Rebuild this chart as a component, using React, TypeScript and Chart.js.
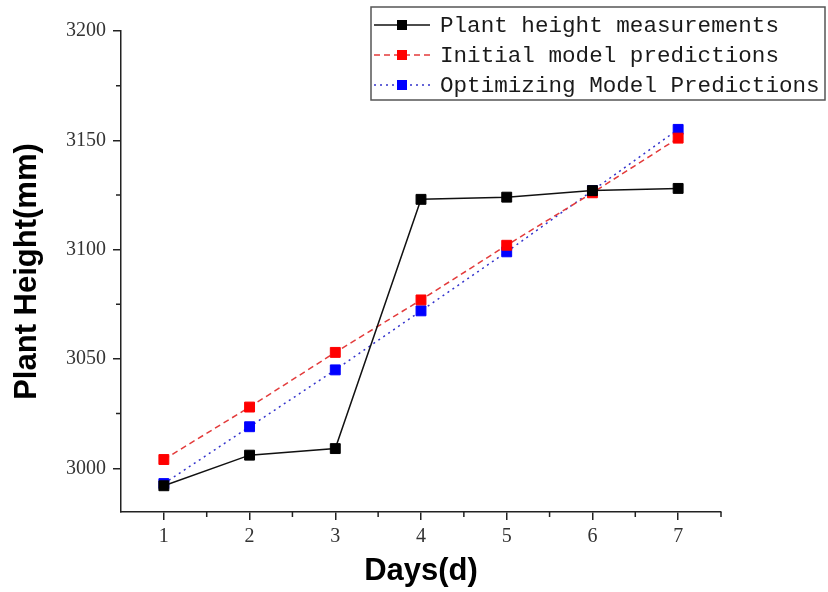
import React, { useEffect, useRef } from "react";
import { Chart, registerables } from "chart.js";

Chart.register(...registerables);

const days = [1, 2, 3, 4, 5, 6, 7];
const measured = [2992, 3006, 3009, 3123, 3124, 3127, 3128];
const initialPred = [3004, 3028, 3053, 3077, 3102, 3126, 3151];
const optimizedPred = [2993, 3019, 3045, 3072, 3099, 3127, 3155];
const yTicks = [3000, 3050, 3100, 3150, 3200];
const xMinorTicks = [1.5, 2.5, 3.5, 4.5, 5.5, 6.5, 7.5];
const yMinorTicks = [3025, 3075, 3125, 3175];
const seriesLabels = [
  "Plant height measurements",
  "Initial model predictions",
  "Optimizing Model Predictions",
];

const toPoints = (vals: number[]) => days.map((d, i) => ({ x: d, y: vals[i] }));

const minorTickPlugin = {
  id: "minorTicks",
  afterDraw(chart: any) {
    const { ctx, chartArea, scales } = chart;
    ctx.save();
    ctx.strokeStyle = "#222";
    ctx.lineWidth = 1.5;
    ctx.beginPath();
    xMinorTicks.forEach((v) => {
      const px = scales.x.getPixelForValue(v);
      ctx.moveTo(px, chartArea.bottom);
      ctx.lineTo(px, chartArea.bottom + 5);
    });
    yMinorTicks.forEach((v) => {
      const py = scales.y.getPixelForValue(v);
      ctx.moveTo(chartArea.left, py);
      ctx.lineTo(chartArea.left - 5, py);
    });
    ctx.stroke();
    ctx.restore();
  },
};

const legendPlugin = {
  id: "boxLegend",
  afterDraw(chart: any) {
    const { ctx } = chart;
    ctx.save();
    ctx.strokeStyle = "#555";
    ctx.lineWidth = 1.5;
    ctx.strokeRect(371, 7, 454, 93);
    chart.data.datasets.forEach((ds: any, i: number) => {
      const y = 25 + i * 30;
      ctx.beginPath();
      ctx.setLineDash(ds.borderDash || []);
      ctx.strokeStyle = ds.borderColor;
      ctx.lineWidth = ds.borderWidth;
      ctx.moveTo(374, y);
      ctx.lineTo(430, y);
      ctx.stroke();
      ctx.setLineDash([]);
      ctx.fillStyle = ds.pointBackgroundColor;
      ctx.fillRect(397, y - 5, 10, 10);
      ctx.fillStyle = "#1a1a1a";
      ctx.font = '22.6px "Liberation Mono"';
      ctx.textBaseline = "middle";
      ctx.textAlign = "left";
      ctx.fillText(ds.label, 440, y + 1);
    });
    ctx.restore();
  },
};

export default function App() {
  const canvasRef = useRef<HTMLCanvasElement | null>(null);

  useEffect(() => {
    const canvas = canvasRef.current;
    if (!canvas) return;
    const tickFont = { family: "Liberation Serif", size: 20 };
    const titleFont = { family: "Liberation Sans", size: 31, weight: "bold" as const, lineHeight: 1.2 };
    const chart = new Chart(canvas, {
      type: "line",
      data: {
        datasets: [
          {
            label: seriesLabels[0],
            data: toPoints(measured),
            borderColor: "#111",
            borderWidth: 1.5,
            pointStyle: "rect",
            pointRadius: 7,
            pointBorderWidth: 1,
            pointBackgroundColor: "#000",
            pointBorderColor: "#000",
          },
          {
            label: seriesLabels[1],
            data: toPoints(initialPred),
            borderColor: "#e33b3b",
            borderWidth: 1.5,
            borderDash: [6, 4],
            pointStyle: "rect",
            pointRadius: 7,
            pointBorderWidth: 1,
            pointBackgroundColor: "#ff0000",
            pointBorderColor: "#ff0000",
          },
          {
            label: seriesLabels[2],
            data: toPoints(optimizedPred),
            borderColor: "#3333cc",
            borderWidth: 1.5,
            borderDash: [2, 4],
            pointStyle: "rect",
            pointRadius: 7,
            pointBorderWidth: 1,
            pointBackgroundColor: "#0000ff",
            pointBorderColor: "#0000ff",
          },
        ],
      },
      options: {
        responsive: false,
        animation: false,
        layout: { padding: { left: 0, top: 31, right: 107, bottom: 0 } },
        plugins: {
          legend: { display: false },
          tooltip: { enabled: false },
        },
        scales: {
          x: {
            type: "linear",
            min: 0.5,
            max: 7.5,
            afterBuildTicks: (scale: any) => {
              scale.ticks = days.map((v) => ({ value: v }));
            },
            afterFit: (scale: any) => {
              scale.height = 80;
            },
            grid: {
              drawOnChartArea: false,
              drawTicks: true,
              tickLength: 8,
              color: "#222",
              lineWidth: 1.5,
            },
            border: { display: true, color: "#222", width: 1.5 },
            ticks: {
              font: tickFont,
              color: "#333",
              padding: 5,
              maxRotation: 0,
              autoSkip: false,
              callback: (v: any) => String(v),
            },
            title: {
              display: true,
              text: "Days(d)",
              font: titleFont,
              color: "#000",
              padding: { top: 0, bottom: 2 },
            },
          },
          y: {
            type: "linear",
            min: 2980,
            max: 3200,
            afterBuildTicks: (scale: any) => {
              scale.ticks = yTicks.map((v) => ({ value: v }));
            },
            afterFit: (scale: any) => {
              scale.width = 121;
            },
            grid: {
              drawOnChartArea: false,
              drawTicks: true,
              tickLength: 8,
              color: "#222",
              lineWidth: 1.5,
            },
            border: { display: true, color: "#222", width: 1.5 },
            ticks: {
              font: tickFont,
              color: "#333",
              padding: 7,
              autoSkip: false,
              callback: (v: any) => String(v),
            },
            title: {
              display: true,
              text: "Plant Height(mm)",
              font: titleFont,
              color: "#000",
              padding: { top: 9, bottom: 0 },
            },
          },
        },
      },
      plugins: [minorTickPlugin, legendPlugin],
    });
    return () => chart.destroy();
  }, []);

  return (
    <div style={{ position: "fixed", left: 0, top: 0, width: 828, height: 592, background: "#fff" }}>
      <canvas ref={canvasRef} width={828} height={592} />
    </div>
  );
}
